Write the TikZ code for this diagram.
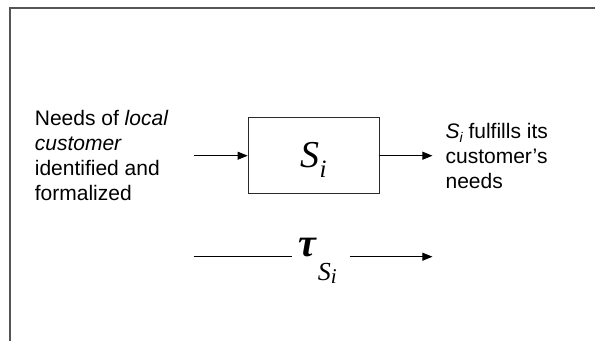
\documentclass[tikz,border=0pt]{standalone}
\usepackage{fontspec}
\setmainfont{Liberation Sans}
\newfontfamily\timesfont{Liberation Serif}
\usetikzlibrary{arrows.meta,positioning}
\definecolor{FrameGray}{HTML}{555555}
\definecolor{BoxLine}{HTML}{2A2A2A}

\begin{document}
\begin{tikzpicture}[x=1pt, y=-1pt,
  blk/.style={draw=BoxLine, line width=0.8pt, minimum width=131pt,
              minimum height=76pt, inner sep=0pt},
  txt/.style={align=left, inner sep=0pt, font=\fontsize{21}{25}\selectfont},
  flow/.style={-{Triangle[length=10pt, width=8pt]}, line width=0.8pt},
  node distance=13pt
]
  \useasboundingbox (0,0) rectangle (595,341);
  % frame
  \draw[FrameGray, line width=2pt] (9.5,341) -- (9.5,8) -- (595,8);

  \node[blk] (si) at (313.5,155.7) {};
  \node[anchor=base] (silbl) at ([yshift=-11.5pt]si.center)
    {\timesfont\itshape\fontsize{38}{38}\selectfont
     S\raisebox{-10pt}{\fontsize{25}{25}\selectfont i}};

  \coordinate[left=54pt of si.west] (in);
  \coordinate[right=53pt of si.east] (out);
  \node[txt, left=25pt of in] (need)
    {Needs of \textit{local}\\ \textit{customer}\\ identified and\\ formalized};
  \node[txt, right=of out] (done)
    {\textit{S}\raisebox{-4pt}{\fontsize{14}{14}\selectfont\itshape i}
     fulfills its\\ customer's\\ needs};

  \draw[flow] (in) -- (si.west);
  \draw[flow] (si.east) -- (out);

  % time line
  \coordinate[below=101pt of in] (tl);
  \coordinate[below=101pt of out] (tr);
  \node[anchor=base west, inner sep=0pt] (tau) at (298,256)
    {\timesfont\bfseries\itshape\fontsize{40}{40}\selectfont τ\hspace{2pt}%
     \raisebox{-24pt}{\mdseries\fontsize{26}{26}\selectfont
       S\raisebox{-3pt}{\fontsize{21}{21}\selectfont i}}};
  \draw[line width=0.8pt] (tl) -- ([xshift=-6pt]tl -| tau.west);
  \draw[flow] ([xshift=13pt]tr -| tau.east) -- (tr);
\end{tikzpicture}
\end{document}
